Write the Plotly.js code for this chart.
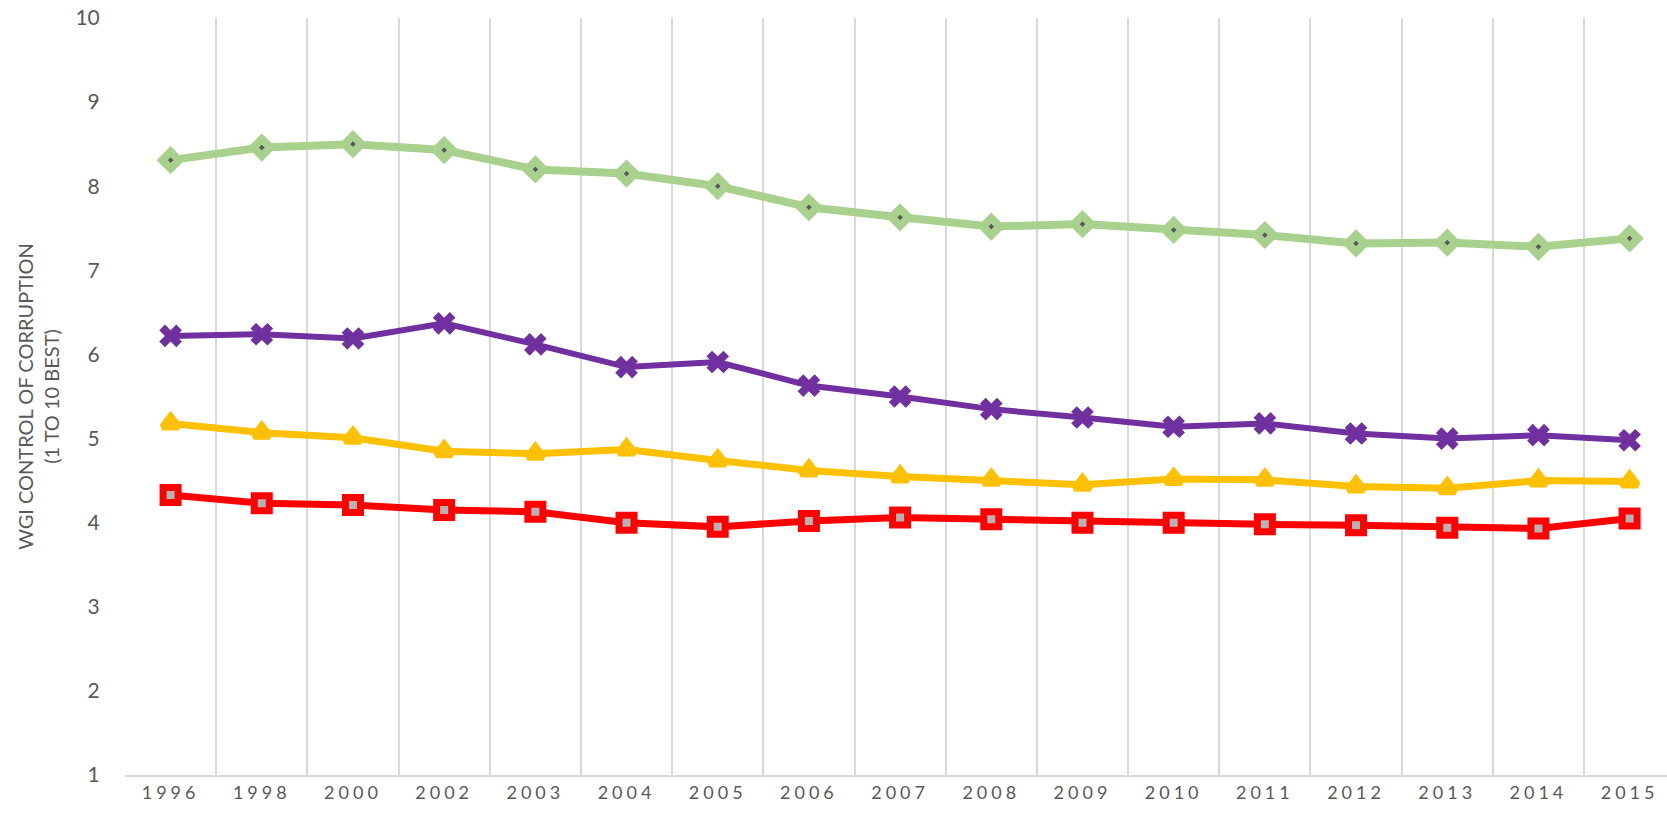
<!DOCTYPE html>
<html>
<head>
<meta charset="utf-8">
<script src="https://cdn.plot.ly/plotly-3.0.1.min.js"></script>
<style>
  html, body { margin: 0; padding: 0; background: #fff; }
  #chart { width: 1667px; height: 813px; }
  .xtick text { letter-spacing: 4px; }
</style>
</head>
<body>
<div id="chart"></div>
<script>
const years = ["1996","1998","2000","2002","2003","2004","2005","2006","2007","2008","2009","2010","2011","2012","2013","2014","2015"];
const seriesGreen  = [8.31, 8.46, 8.50, 8.43, 8.20, 8.15, 8.00, 7.75, 7.63, 7.52, 7.55, 7.48, 7.42, 7.32, 7.33, 7.28, 7.38];
const seriesPurple = [6.22, 6.24, 6.19, 6.37, 6.12, 5.85, 5.91, 5.63, 5.50, 5.35, 5.25, 5.14, 5.18, 5.06, 5.00, 5.04, 4.98];
const seriesYellow = [5.18, 5.07, 5.01, 4.85, 4.82, 4.87, 4.74, 4.62, 4.55, 4.51, 4.45, 4.52, 4.51, 4.43, 4.41, 4.50, 4.49];
const seriesRed    = [4.33, 4.23, 4.21, 4.15, 4.13, 4.00, 3.95, 4.02, 4.06, 4.04, 4.00, 4.00, 3.98, 3.97, 3.94, 3.93, 4.05];
const yTicks = [1,2,3,4,5,6,7,8,9,10];

const traces = [
  {
    name: "Series 1", x: years, y: seriesGreen, type: "scatter", mode: "lines+markers",
    line: {color: "#A9D18E", width: 8},
    marker: {symbol: "diamond", size: 13, color: "#595959", line: {color: "#A9D18E", width: 8}}
  },
  {
    name: "Series 2", x: years, y: seriesPurple, type: "scatter", mode: "lines+markers",
    line: {color: "#7030A0", width: 6},
    marker: {symbol: "x", size: 20, color: "#7030A0", line: {width: 0}}
  },
  {
    name: "Series 3", x: years, y: seriesYellow, type: "scatter", mode: "lines+markers",
    line: {color: "#FFC000", width: 7},
    marker: {symbol: "triangle-up", size: 14, color: "#A5A5A5", line: {color: "#FFC000", width: 7}}
  },
  {
    name: "Series 4", x: years, y: seriesRed, type: "scatter", mode: "lines+markers",
    line: {color: "#FF0000", width: 7},
    marker: {symbol: "square", size: 15, color: "#B4B4B4", line: {color: "#FF0000", width: 7}}
  }
];

const layout = {
  width: 1667, height: 813,
  margin: {l: 125, r: 0, t: 18, b: 38},
  paper_bgcolor: "#ffffff", plot_bgcolor: "#ffffff",
  showlegend: false,
  font: {family: "Lato, 'Open Sans', sans-serif", color: "#595959"},
  xaxis: {
    type: "category",
    range: [-0.5, 16.41],
    tickson: "boundaries",
    showgrid: true, gridcolor: "#D9D9D9", gridwidth: 2,
    showline: true, linecolor: "#D9D9D9", linewidth: 2,
    ticks: "outside", ticklen: 9, tickcolor: "rgba(0,0,0,0)",
    tickangle: 0,
    tickfont: {size: 18, color: "#595959"},
    zeroline: false, fixedrange: true
  },
  yaxis: {
    range: [1, 10],
    tickvals: yTicks,
    ticktext: yTicks.map(String),
    showgrid: false, zeroline: false, showline: false,
    ticks: "outside", ticklen: 20, tickcolor: "rgba(0,0,0,0)",
    tickfont: {size: 21, color: "#595959"},
    title: {text: "WGI CONTROL OF CORRUPTION<br>(1 TO 10 BEST)", font: {size: 20, color: "#595959"}, standoff: 10},
    fixedrange: true
  }
};

Plotly.newPlot("chart", traces, layout, {displayModeBar: false, staticPlot: true});
</script>
</body>
</html>
